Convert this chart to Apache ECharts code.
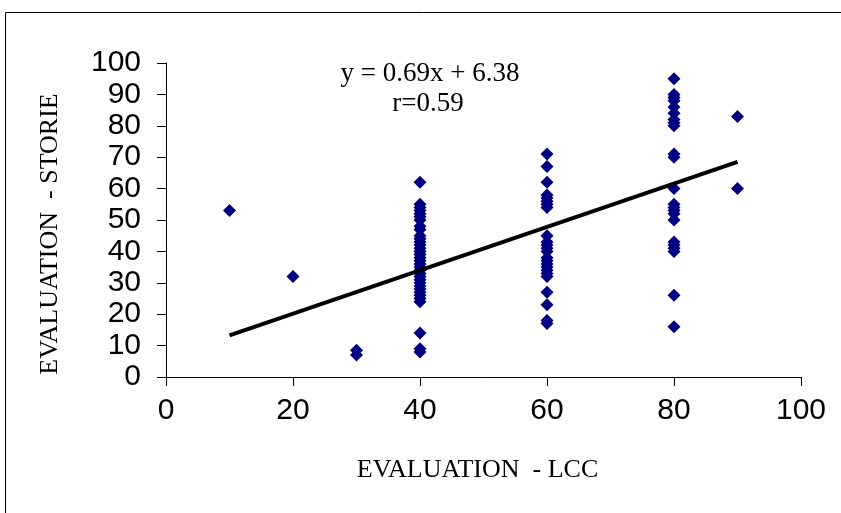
<!DOCTYPE html>
<html><head><meta charset="utf-8">
<script src="https://cdn.jsdelivr.net/npm/echarts@6/dist/echarts.min.js"></script>
<style>html,body{margin:0;padding:0;background:#fff}#c{width:841px;height:513px}</style>
</head><body><div id="c"></div>
<script>
// Observations grouped by LCC evaluation (x) with STORIE evaluation (y)
const lcc10 = [53];
const lcc20 = [32];
const lcc30 = [8.5, 7];
const lcc40 = [62, 55, 54, 53, 52, 51, 50, 48, 47, 45, 44, 43, 42, 41, 40, 39, 38, 37, 36, 35, 34, 33, 32, 31, 30, 29, 28, 27, 26, 25, 24, 14, 9, 8];
const lcc60 = [71, 67, 62, 58, 57, 56, 55, 54, 45, 43, 42, 41, 40, 38, 37, 36, 35, 34, 33, 32, 27, 23, 18, 17];
const lcc80 = [95, 90, 89, 88, 86, 84, 82, 81, 80, 71, 70, 60, 55, 54, 53, 52, 50, 43, 42, 41, 40, 26, 16];
const lcc90 = [83, 60];
const groups = [[10, lcc10], [20, lcc20], [30, lcc30], [40, lcc40], [60, lcc60], [80, lcc80], [90, lcc90]];
const slope = 0.69, intercept = 6.38;
const fitRange = [10, 90];
const xTicks = [0, 20, 40, 60, 80, 100];
const yTicks = [0, 10, 20, 30, 40, 50, 60, 70, 80, 90, 100];

const points = [];
groups.forEach(([x, ys]) => ys.forEach(y => points.push([x, y])));
const fitLine = fitRange.map(x => [x, slope * x + intercept]);

const chart = echarts.init(document.getElementById('c'));
chart.setOption({
  animation: false,
  backgroundColor: '#fff',
  grid: { left: 166, right: 40, top: 63, bottom: 136 },
  xAxis: {
    type: 'value', min: 0, max: 100, interval: 20,
    name: 'EVALUATION  - LCC', nameLocation: 'middle', nameGap: 80,
    nameTextStyle: { fontFamily: 'Liberation Serif', fontSize: 26, color: '#000', padding: [0, 12, 0, 0] },
    axisLine: { lineStyle: { color: '#000', width: 1 } },
    axisTick: { show: true, length: 9, lineStyle: { color: '#000' } },
    axisLabel: { fontFamily: 'Liberation Sans', fontSize: 30, color: '#000', margin: 19 },
    splitLine: { show: false }
  },
  yAxis: {
    type: 'value', min: 0, max: 100, interval: 10,
    name: 'EVALUATION  - STORIE', nameLocation: 'middle', nameGap: 103, nameRotate: 90,
    nameTextStyle: { fontFamily: 'Liberation Serif', fontSize: 26, color: '#000', padding: [0, 28, 0, 0] },
    axisLine: { show: true, lineStyle: { color: '#000', width: 1 } },
    axisTick: { show: true, length: 9, lineStyle: { color: '#000' } },
    axisLabel: { fontFamily: 'Liberation Sans', fontSize: 30, color: '#000', margin: 25 },
    splitLine: { show: false }
  },
  graphic: [
    { type: 'rect', shape: { x: 5.5, y: 12.5, width: 850, height: 520 }, style: { fill: 'none', stroke: '#000', lineWidth: 1 }, silent: true },
    { type: 'text', style: { text: 'y = 0.69x + 6.38', fontFamily: 'Liberation Serif', fontSize: 27, fill: '#000', x: 430, y: 74, textAlign: 'center', textVerticalAlign: 'middle' } },
    { type: 'text', style: { text: 'r=0.59', fontFamily: 'Liberation Serif', fontSize: 27, fill: '#000', x: 428, y: 104, textAlign: 'center', textVerticalAlign: 'middle' } }
  ],
  series: [
    { type: 'scatter', data: points, symbol: 'diamond', symbolSize: 13, itemStyle: { color: '#000080', opacity: 1 }, z: 3 },
    { type: 'line', data: fitLine, symbol: 'none', lineStyle: { color: '#000', width: 4 }, z: 4 }
  ]
});
</script></body></html>
